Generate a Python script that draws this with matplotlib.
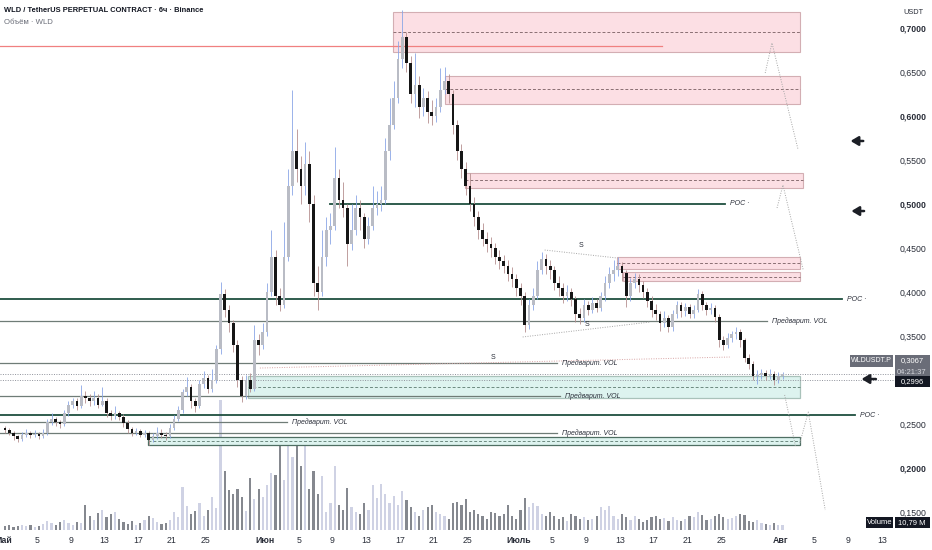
import numpy as np
import matplotlib.pyplot as plt
from matplotlib.patches import Rectangle

plt.rcParams['font.family'] = ['Liberation Sans Narrow', 'Liberation Sans', 'DejaVu Sans']

# 12h свечи WLDUSDT.P с 1 мая
close = [0.243, 0.240, 0.236, 0.233, 0.238, 0.240, 0.237, 0.239, 0.236, 0.240,
         0.252, 0.256, 0.252, 0.250, 0.262, 0.272, 0.276, 0.270, 0.282, 0.279,
         0.276, 0.280, 0.272, 0.276, 0.262, 0.259, 0.262, 0.258, 0.251, 0.244,
         0.240, 0.242, 0.238, 0.240, 0.232, 0.236, 0.240, 0.238, 0.236, 0.246,
         0.256, 0.266, 0.286, 0.292, 0.276, 0.270, 0.296, 0.302, 0.290, 0.300,
         0.335, 0.398, 0.380, 0.365, 0.340, 0.300, 0.282, 0.300, 0.290, 0.345,
         0.340, 0.355, 0.400, 0.440, 0.395, 0.385, 0.440, 0.520, 0.560, 0.540,
         0.520, 0.545, 0.500, 0.410, 0.400, 0.440, 0.470, 0.475, 0.530, 0.505,
         0.495, 0.455, 0.470, 0.495, 0.485, 0.460, 0.475, 0.495, 0.500, 0.505,
         0.560, 0.590, 0.620, 0.665, 0.690, 0.660, 0.625, 0.635, 0.610, 0.620,
         0.605, 0.600, 0.610, 0.630, 0.640, 0.625, 0.590, 0.560, 0.540, 0.520,
         0.500, 0.485, 0.470, 0.460, 0.455, 0.450, 0.440, 0.435, 0.430, 0.420,
         0.415, 0.405, 0.395, 0.362, 0.385, 0.395, 0.425, 0.438, 0.430, 0.425,
         0.410, 0.405, 0.395, 0.400, 0.392, 0.375, 0.370, 0.385, 0.380, 0.388,
         0.382, 0.395, 0.410, 0.420, 0.425, 0.430, 0.422, 0.395, 0.410, 0.415,
         0.408, 0.400, 0.390, 0.380, 0.375, 0.365, 0.370, 0.360, 0.375, 0.385,
         0.378, 0.383, 0.375, 0.380, 0.398, 0.385, 0.380, 0.382, 0.372, 0.345,
         0.340, 0.348, 0.352, 0.355, 0.345, 0.325, 0.318, 0.305, 0.306, 0.308,
         0.305, 0.307, 0.300, 0.304, 0.3067]
high = [0.248, 0.246, 0.242, 0.238, 0.241, 0.244, 0.242, 0.243, 0.241, 0.244,
        0.256, 0.262, 0.258, 0.255, 0.266, 0.276, 0.280, 0.279, 0.294, 0.288,
        0.284, 0.287, 0.284, 0.292, 0.279, 0.266, 0.270, 0.265, 0.261, 0.254,
        0.247, 0.246, 0.244, 0.243, 0.242, 0.240, 0.247, 0.244, 0.241, 0.250,
        0.260, 0.270, 0.290, 0.303, 0.295, 0.280, 0.300, 0.310, 0.306, 0.312,
        0.340, 0.411, 0.403, 0.385, 0.368, 0.345, 0.305, 0.306, 0.308, 0.362,
        0.352, 0.365, 0.410, 0.470, 0.448, 0.405, 0.480, 0.540, 0.630, 0.585,
        0.555, 0.570, 0.560, 0.510, 0.430, 0.470, 0.485, 0.490, 0.565, 0.540,
        0.525, 0.500, 0.500, 0.510, 0.505, 0.490, 0.485, 0.520, 0.515, 0.520,
        0.575, 0.620, 0.640, 0.685, 0.720, 0.695, 0.668, 0.672, 0.645, 0.632,
        0.628, 0.618, 0.620, 0.655, 0.656, 0.648, 0.630, 0.595, 0.568, 0.548,
        0.535, 0.508, 0.492, 0.478, 0.468, 0.462, 0.456, 0.448, 0.442, 0.436,
        0.428, 0.420, 0.410, 0.400, 0.392, 0.405, 0.435, 0.446, 0.443, 0.436,
        0.430, 0.418, 0.410, 0.408, 0.405, 0.396, 0.382, 0.392, 0.390, 0.394,
        0.392, 0.400, 0.418, 0.428, 0.436, 0.440, 0.434, 0.425, 0.416, 0.422,
        0.420, 0.412, 0.404, 0.395, 0.386, 0.378, 0.378, 0.374, 0.380, 0.390,
        0.389, 0.388, 0.386, 0.385, 0.403, 0.401, 0.389, 0.387, 0.385, 0.375,
        0.350, 0.353, 0.356, 0.360, 0.358, 0.348, 0.330, 0.322, 0.311, 0.313,
        0.311, 0.312, 0.310, 0.309, 0.309]
low = [0.240, 0.237, 0.232, 0.229, 0.231, 0.235, 0.234, 0.235, 0.233, 0.234,
       0.238, 0.249, 0.248, 0.246, 0.248, 0.259, 0.268, 0.266, 0.268, 0.274,
       0.271, 0.272, 0.268, 0.270, 0.258, 0.255, 0.256, 0.254, 0.247, 0.240,
       0.236, 0.237, 0.235, 0.235, 0.226, 0.229, 0.233, 0.234, 0.232, 0.234,
       0.243, 0.253, 0.263, 0.282, 0.268, 0.264, 0.268, 0.291, 0.285, 0.286,
       0.297, 0.330, 0.372, 0.355, 0.332, 0.292, 0.275, 0.278, 0.286, 0.288,
       0.328, 0.335, 0.350, 0.395, 0.385, 0.378, 0.382, 0.435, 0.510, 0.525,
       0.500, 0.510, 0.480, 0.395, 0.380, 0.395, 0.430, 0.455, 0.470, 0.495,
       0.485, 0.430, 0.448, 0.465, 0.470, 0.450, 0.455, 0.470, 0.488, 0.492,
       0.500, 0.550, 0.585, 0.615, 0.655, 0.650, 0.615, 0.610, 0.598, 0.600,
       0.592, 0.590, 0.593, 0.605, 0.625, 0.615, 0.580, 0.550, 0.530, 0.510,
       0.492, 0.475, 0.460, 0.452, 0.446, 0.440, 0.432, 0.426, 0.422, 0.412,
       0.406, 0.396, 0.385, 0.355, 0.358, 0.380, 0.392, 0.420, 0.420, 0.415,
       0.402, 0.396, 0.388, 0.390, 0.384, 0.366, 0.364, 0.366, 0.374, 0.376,
       0.377, 0.378, 0.390, 0.405, 0.412, 0.418, 0.412, 0.383, 0.390, 0.404,
       0.400, 0.393, 0.383, 0.372, 0.368, 0.356, 0.360, 0.354, 0.356, 0.370,
       0.372, 0.373, 0.370, 0.371, 0.377, 0.380, 0.374, 0.375, 0.366, 0.338,
       0.334, 0.336, 0.343, 0.347, 0.338, 0.320, 0.312, 0.300, 0.296, 0.301,
       0.300, 0.301, 0.294, 0.297, 0.301]
# объём, млн
volume = [8, 10, 7, 9, 12, 8, 10, 7, 9, 14,
          20, 16, 12, 18, 22, 15, 12, 18, 16, 55,
          30, 22, 38, 44, 28, 35, 40, 24, 18, 14,
          20, 12, 16, 22, 30, 26, 18, 14, 16, 22,
          40, 28, 95, 52, 36, 42, 60, 30, 45, 72,
          48, 285, 130, 88, 80, 90, 72, 42, 115, 68,
          90, 72, 100, 125, 120, 185, 110, 185, 160, 200,
          140, 185, 90, 130, 80, 118, 40, 60, 140, 55,
          45, 92, 50, 40, 35, 60, 45, 100, 70, 102,
          80, 60, 75, 55, 85, 65, 50, 40, 30, 45,
          50, 55, 40, 35, 30, 25, 60, 62, 55, 68,
          40, 45, 35, 30, 25, 40, 38, 30, 35, 55,
          30, 25, 45, 70, 50, 60, 52, 35, 30, 40,
          30, 25, 28, 20, 35, 30, 25, 28, 22, 25,
          30, 50, 45, 52, 30, 25, 35, 28, 22, 30,
          25, 18, 22, 28, 30, 24, 26, 20, 28, 22,
          20, 25, 30, 28, 40, 32, 22, 25, 30, 35,
          28, 24, 26, 30, 35, 32, 20, 18, 22, 15,
          14, 12, 16, 12, 10.79]
first_open = 0.245

tick_days = [0, 4, 8, 12, 16, 20, 24, 31, 35, 39, 43, 47, 51, 55,
             61, 65, 69, 73, 77, 81, 85, 92, 96, 100, 104]
tick_labels = ['Май', '5', '9', '13', '17', '21', '25', 'Июн', '5', '9', '13', '17', '21', '25',
               'Июль', '5', '9', '13', '17', '21', '25', 'Авг', '5', '9', '13']
price_ticks = [0.15, 0.20, 0.25, 0.35, 0.40, 0.45, 0.50, 0.55, 0.60, 0.65, 0.70]

# зоны: (начало, конец, низ, верх, середина)
red_zones = [(46.15, 94.3, 0.6727, 0.7182, 0.6955),
             (52.3, 94.3, 0.6136, 0.6455, 0.6307),
             (54.7, 94.7, 0.5182, 0.5352, 0.5273),
             (72.7, 94.3, 0.4260, 0.4400, 0.4330),
             (73.4, 94.3, 0.4125, 0.4227, 0.4170)]
green_zones = [(28.95, 94.3, 0.2795, 0.3045, 0.2926, '#a9c2ba'),
               (17.2, 94.3, 0.2261, 0.2352, 0.2307, '#4f6f63')]
poc_lines = [(38.7, 85.4, 0.5000), (-0.4, 99.3, 0.3920), (-0.4, 100.8, 0.2602)]
vol_lines = [(90.4, 0.3670), (65.6, 0.3193), (65.9, 0.2818), (33.6, 0.2523), (65.6, 0.2398)]

open_ = [first_open] + close[:-1]
t = np.arange(len(close)) * 0.5 + 0.25
up = np.array(close) >= np.array(open_)

W, H = 932, 550
fig = plt.figure(figsize=(W / 100, H / 100), dpi=100)
rect = [0, 20 / H, 895 / W, 530 / H]
axv = fig.add_axes(rect)
ax = fig.add_axes(rect)
ax.patch.set_alpha(0)
xlim = (-0.355, 105.56)

# объём
axv.bar(t, volume, width=0.26, color=np.where(up, '#cfd2e4', '#85888f'), linewidth=0)
axv.set_xlim(xlim)
axv.set_ylim(0, 1166)
axv.set_axis_off()

# зоны
for x0, x1, lo, hi, mid in red_zones:
    ax.add_patch(Rectangle((x0, lo), x1 - x0, hi - lo, fc='#fcdfe4', ec='#d3aeb3', lw=0.8, zorder=1))
    ax.plot([x0, x1], [mid, mid], color='#8a6f73', lw=0.7, ls=(0, (3, 2)), zorder=1.5)
for x0, x1, lo, hi, mid, ec in green_zones:
    ax.add_patch(Rectangle((x0, lo), x1 - x0, hi - lo, fc='#ddf3ef', ec=ec, lw=0.9, zorder=1))
    ax.plot([x0, x1], [mid, mid], color='#6d8a80', lw=0.7, ls=(0, (3, 2)), zorder=1.5)

# линии
ax.plot([-0.4, 78.0], [0.6795, 0.6795], color='#f08080', lw=0.9, zorder=2)
for x0, x1, y in poc_lines:
    ax.plot([x0, x1], [y, y], color='#1f4f3f', lw=1.3, zorder=2)
    ax.text(x1 + 0.6, y, 'POC ·', fontsize=5, style='italic', color='#2a2e39', va='center')
for x1, y in vol_lines:
    ax.plot([-0.4, x1], [y, y], color='#6f7c77', lw=0.9, zorder=2)
    ax.text(x1 + 0.6, y, 'Предварит. VOL', fontsize=5, style='italic', color='#2a2e39', va='center')
for y in [0.3067, 0.2996]:
    ax.plot(xlim, [y, y], color='#8f929b', lw=0.7, ls=(0, (1, 1.5)), zorder=2)

dot = dict(color='#a6a6a6', lw=0.7, ls=(0, (1, 1.5)), zorder=2)
ax.plot([64.1, 72.7], [0.4477, 0.4386], **dot)
ax.plot([61.5, 76.6], [0.3489, 0.3659], **dot)
ax.plot([30.4, 86.0], [0.3136, 0.3261], color='#d8a4a4', lw=0.7, ls=(0, (1, 1.5)), zorder=2)
ax.plot([90.2, 91.0, 94.1], [0.6489, 0.683, 0.5614], **dot)
ax.plot([91.6, 92.3, 94.7], [0.4955, 0.5216, 0.425], **dot)
ax.plot([92.5, 93.8], [0.2830, 0.2239], **dot)
ax.plot([94.3, 95.3, 97.3], [0.2284, 0.2636, 0.1523], **dot)
for x, y in [(68.4, 0.4523), (69.1, 0.3636), (58.0, 0.3261)]:
    ax.text(x, y, 'S', fontsize=5, color='#2a2e39', ha='center', va='center')

# свечи
ax.vlines(t, low, high, colors=np.where(up, '#8aa6e6', '#b58f8f'), lw=0.6, zorder=3)
body_lo = np.minimum(open_, close)
body_h = np.maximum(np.abs(np.array(close) - np.array(open_)), 0.0012)
ax.bar(t, body_h, bottom=body_lo, width=0.32, color=np.where(up, '#b9bcc5', '#161616'),
       linewidth=0, zorder=4)

# стрелки
for x0, x1, y in [(100.3, 101.8, 0.5716), (100.4, 101.9, 0.4920), (101.6, 103.3, 0.3011)]:
    ax.annotate('', xy=(x0, y), xytext=(x1, y),
                arrowprops=dict(arrowstyle='-|>,head_length=0.5,head_width=0.3',
                                color='#1c1f26', lw=1.8, mutation_scale=9, shrinkA=0, shrinkB=0))

ax.set_xlim(xlim)
ax.set_ylim(0.12955, 0.7318)
ax.yaxis.tick_right()
ax.set_yticks(price_ticks, [f'{v:.4f}'.replace('.', ',') for v in price_ticks])
ax.set_xticks(tick_days, tick_labels)
ax.tick_params(axis='y', length=0, pad=3, labelsize=6.3, labelcolor='#2a2e39')
ax.tick_params(axis='x', length=0, pad=4, labelsize=6.3, labelcolor='#2a2e39')
for lab in ax.get_xticklabels():
    if lab.get_text() in ('Май', 'Июн', 'Июль', 'Авг'):
        lab.set_fontweight('bold')
for lab in ax.get_yticklabels():
    if lab.get_text() in ('0,7000', '0,6000', '0,5000', '0,2000'):
        lab.set_fontweight('bold')
for s in ax.spines.values():
    s.set_visible(False)


def fx(x):
    return x / W


def fy(y):
    return 1 - y / H


fig.text(fx(4), fy(11), 'WLD / TetherUS PERPETUAL CONTRACT · 6ч · Binance', fontsize=5.4,
         fontweight='bold', color='#131722', va='center')
fig.text(fx(4), fy(23), 'Объём · WLD', fontsize=5.6, color='#6a6d78', va='center')
fig.text(fx(903), fy(12), 'USDT', fontsize=5.3, color='#2a2e39', va='center')

for x0, y0, x1, y1, fc in [(850, 355, 893, 367, '#6a6d78'), (895, 355, 930, 378, '#6a6d78'),
                           (895, 376, 930, 387, '#131722'), (866, 517, 893, 528, '#131722'),
                           (895, 517, 930, 528, '#131722')]:
    fig.patches.append(Rectangle((fx(x0), fy(y1)), fx(x1 - x0), (y1 - y0) / H,
                                 transform=fig.transFigure, fc=fc, ec='none'))
for x, y, s, c in [(871.5, 361, 'WLDUSDT.P', 'white'), (912, 361, '0,3067', 'white'),
                   (912, 372, '04:21:37', '#d5d6dc'), (912, 381.5, '0,2996', 'white'),
                   (879.5, 522.5, 'Volume', 'white'), (912, 522.5, '10,79 M', 'white')]:
    fig.text(fx(x), fy(y), s, fontsize=5 if s == 'WLDUSDT.P' else 5.5, color=c,
             ha='center', va='center')

fig.savefig('out.png', dpi=100)
